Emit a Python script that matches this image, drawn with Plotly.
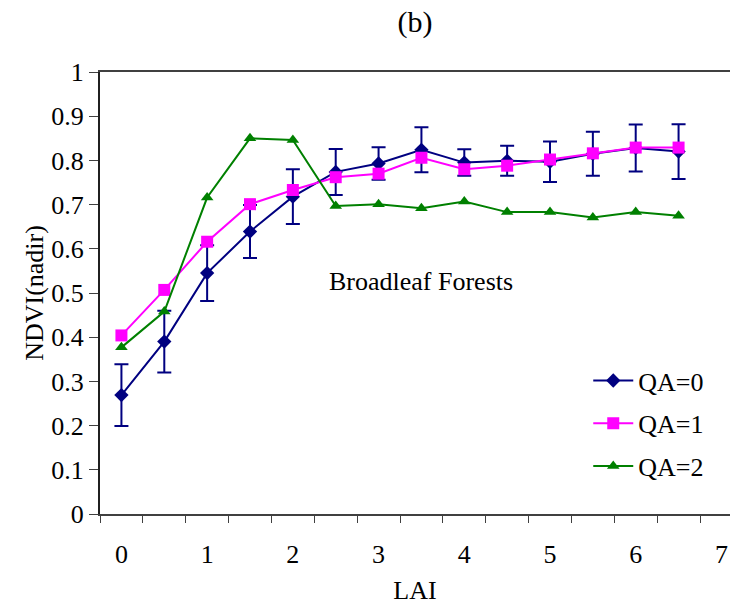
import plotly.graph_objects as go

# LAI bins
lai = [0, 0.5, 1, 1.5, 2, 2.5, 3, 3.5, 4, 4.5, 5, 5.5, 6, 6.5]

# NDVI (nadir) by QA flag
ndvi_qa0 = [0.269, 0.390, 0.545, 0.639, 0.718, 0.774, 0.793, 0.824, 0.795, 0.799, 0.797, 0.815, 0.828, 0.820]
err_qa0 = [0.070, 0.070, 0.063, 0.060, 0.062, 0.052, 0.037, 0.051, 0.030, 0.034, 0.046, 0.050, 0.053, 0.062]
ndvi_qa1 = [0.404, 0.507, 0.616, 0.701, 0.733, 0.762, 0.770, 0.806, 0.780, 0.788, 0.802, 0.816, 0.829, 0.829]
ndvi_qa2 = [0.377, 0.458, 0.716, 0.850, 0.846, 0.697, 0.701, 0.692, 0.707, 0.683, 0.683, 0.671, 0.683, 0.675]

x_labels = [0, 1, 2, 3, 4, 5, 6, 7]

FONT = "Liberation Serif, Times New Roman, serif"
NAVY = "#000080"
MAGENTA = "#FF00FF"
GREEN = "#008000"
AXIS = "#404040"
FS = 26

fig = go.Figure()

fig.add_trace(go.Scatter(
    x=lai, y=ndvi_qa0, name="QA=0", mode="lines+markers",
    line=dict(color=NAVY, width=2),
    marker=dict(symbol="diamond", size=11, color=NAVY),
    error_y=dict(type="data", array=err_qa0, visible=True,
                 color=NAVY, thickness=2, width=7),
    legendgroup="a",
))
fig.add_trace(go.Scatter(
    x=lai, y=ndvi_qa1, name="QA=1", mode="lines+markers",
    line=dict(color=MAGENTA, width=2),
    marker=dict(symbol="square", size=12, color=MAGENTA),
    legendgroup="b",
))
fig.add_trace(go.Scatter(
    x=lai, y=ndvi_qa2, name="QA=2", mode="lines+markers",
    line=dict(color=GREEN, width=2),
    marker=dict(symbol="triangle-up", size=11, color=GREEN),
    legendgroup="c",
))

fig.add_annotation(
    x=3.5, y=0.525, xref="x", yref="y", text="Broadleaf Forests",
    showarrow=False, font=dict(family=FONT, size=FS, color="black"),
)

fig.update_layout(
    width=730, height=608,
    margin=dict(l=100, r=0, t=72, b=94),
    paper_bgcolor="white", plot_bgcolor="white",
    font=dict(family=FONT, size=FS, color="black"),
    title=dict(text="(b)", x=0.5, xref="paper", y=0.965, yanchor="middle",
               font=dict(family=FONT, size=30, color="black")),
    showlegend=True,
    legend=dict(x=0.775, y=0.355, xanchor="left", yanchor="top",
                bgcolor="rgba(0,0,0,0)", font=dict(family=FONT, size=FS),
                traceorder="grouped", tracegroupgap=6, itemwidth=40),
    xaxis=dict(
        range=[-0.25, 7.1], showgrid=False, zeroline=False,
        showline=True, linecolor=AXIS, linewidth=2, mirror=True,
        tickvals=x_labels, ticktext=[str(v) for v in x_labels],
        ticks="outside", ticklen=16, tickcolor="rgba(0,0,0,0)",
        minor=dict(tick0=-0.25, dtick=0.5, ticks="outside", ticklen=7,
                   tickcolor=AXIS, tickwidth=1, showgrid=False),
        tickfont=dict(family=FONT, size=FS),
        title=dict(text="LAI", font=dict(family=FONT, size=FS), standoff=13),
    ),
    yaxis=dict(
        range=[0, 1], dtick=0.1, showgrid=False, zeroline=False,
        showline=True, linecolor="#202020", linewidth=2,
        ticks="outside", ticklen=9, tickcolor=AXIS, tickwidth=1,
        tickfont=dict(family=FONT, size=FS),
        title=dict(text="NDVI(nadir)", font=dict(family=FONT, size=FS), standoff=0),
    ),
)

fig.write_html("out.html")
